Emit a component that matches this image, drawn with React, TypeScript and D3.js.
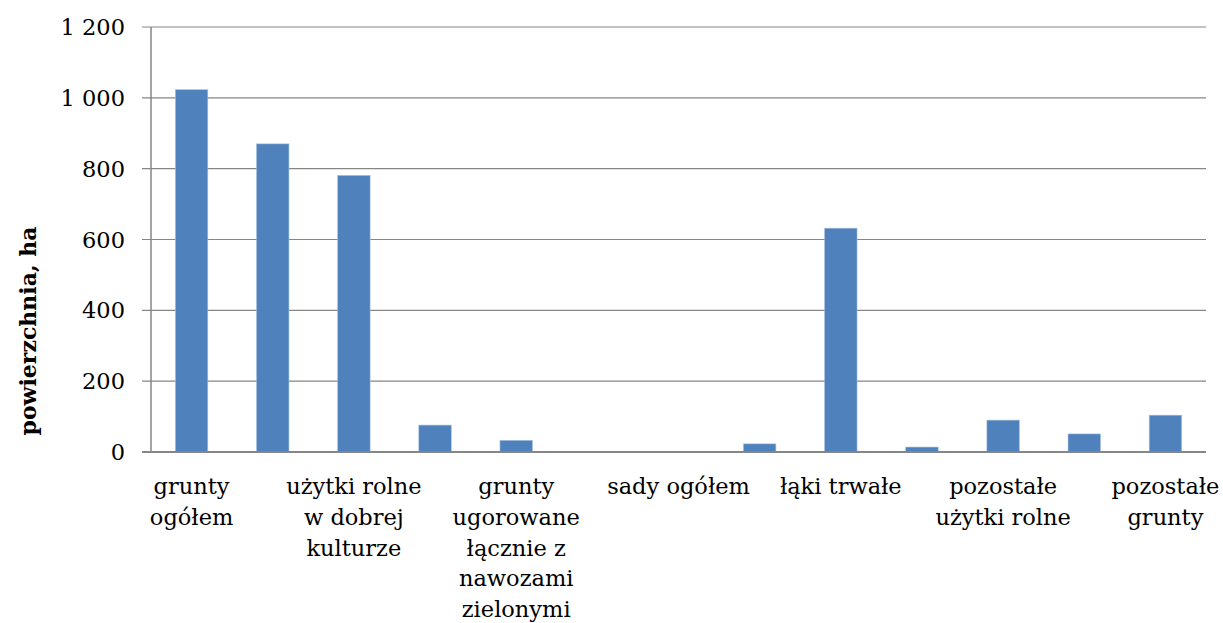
import React from "react";
import * as d3 from "d3";

const categories: string[] = [
  "grunty ogółem",
  "użytki rolne",
  "użytki rolne w dobrej kulturze",
  "pod zasiewami",
  "grunty ugorowane łącznie z nawozami zielonymi",
  "uprawy trwałe",
  "sady ogółem",
  "ogrody przydomowe",
  "łąki trwałe",
  "pastwiska trwałe",
  "pozostałe użytki rolne",
  "lasy i grunty leśne",
  "pozostałe grunty",
];

// Wrapped label lines as shown on the axis (every second category is labelled)
const labelLines: string[][] = [
  ["grunty", "ogółem"],
  [],
  ["użytki rolne", "w dobrej", "kulturze"],
  [],
  ["grunty", "ugorowane", "łącznie z", "nawozami", "zielonymi"],
  [],
  ["sady ogółem"],
  [],
  ["łąki trwałe"],
  [],
  ["pozostałe", "użytki rolne"],
  [],
  ["pozostałe", "grunty"],
];

const values: number[] = [1023, 870, 781, 76, 33, 2, 2, 23, 632, 14, 90, 51, 104];

const yTicks: number[] = [0, 200, 400, 600, 800, 1000, 1200];
const yTitle = "powierzchnia, ha";

const W = 1223;
const H = 623;
const margin = { left: 151, right: 17, top: 27, bottom: 171 };
const FONT = "'DejaVu Serif', serif";
const GRID = "#868686";
const BAR = "#4F81BD";

const fmt = (v: number) => d3.format(",")(v).replace(/,/g, " ");

export default function App() {
  const x = d3
    .scaleBand<number>()
    .domain(d3.range(categories.length))
    .range([margin.left, W - margin.right])
    .paddingInner(0.6)
    .paddingOuter(0.3);
  const y = d3
    .scaleLinear()
    .domain([0, 1200])
    .range([H - margin.bottom, margin.top]);

  const step = x.step();
  const x0 = margin.left;
  const x1 = W - margin.right;
  const catCenter = (i: number) => x0 + step * (i + 0.5);
  const bw = x.bandwidth();

  return (
    <svg
      width={W}
      height={H}
      style={{ position: "absolute", left: 0, top: 0, background: "#fff" }}
      fontFamily={FONT}
    >
      {yTicks.map((t) => (
        <g key={t}>
          <line
            x1={x0 - 9}
            x2={t === 0 ? x0 : x1}
            y1={y(t)}
            y2={y(t)}
            stroke={GRID}
            strokeWidth={1.2}
          />
          <text
            x={125}
            y={y(t)}
            dy="0.36em"
            textAnchor="end"
            fontSize={22.5}
            fill="#000"
          >
            {fmt(t)}
          </text>
        </g>
      ))}
      {values.map((v, i) => (
        <rect
          key={i}
          x={catCenter(i) - bw / 2}
          y={y(v)}
          width={bw}
          height={y(0) - y(v)}
          fill={BAR}
          stroke="#a9c0dd"
          strokeWidth={0.6}
        />
      ))}
      <line x1={x0} x2={x0} y1={y(1200)} y2={y(0)} stroke={GRID} strokeWidth={1.5} />
      <line x1={x0 - 9} x2={x1} y1={y(0)} y2={y(0)} stroke={GRID} strokeWidth={2} />
      {labelLines.map((lines, i) =>
        lines.length ? (
          <text key={i} textAnchor="middle" fontSize={22.5} fill="#000">
            {lines.map((ln, j) => (
              <tspan key={j} x={catCenter(i)} y={494 + j * 30.8}>
                {ln}
              </tspan>
            ))}
          </text>
        ) : null
      )}
      <text
        transform={`translate(36, 331) rotate(-90)`}
        textAnchor="middle"
        fontSize={22}
        fontWeight="bold"
        fill="#000"
      >
        {yTitle}
      </text>
    </svg>
  );
}
